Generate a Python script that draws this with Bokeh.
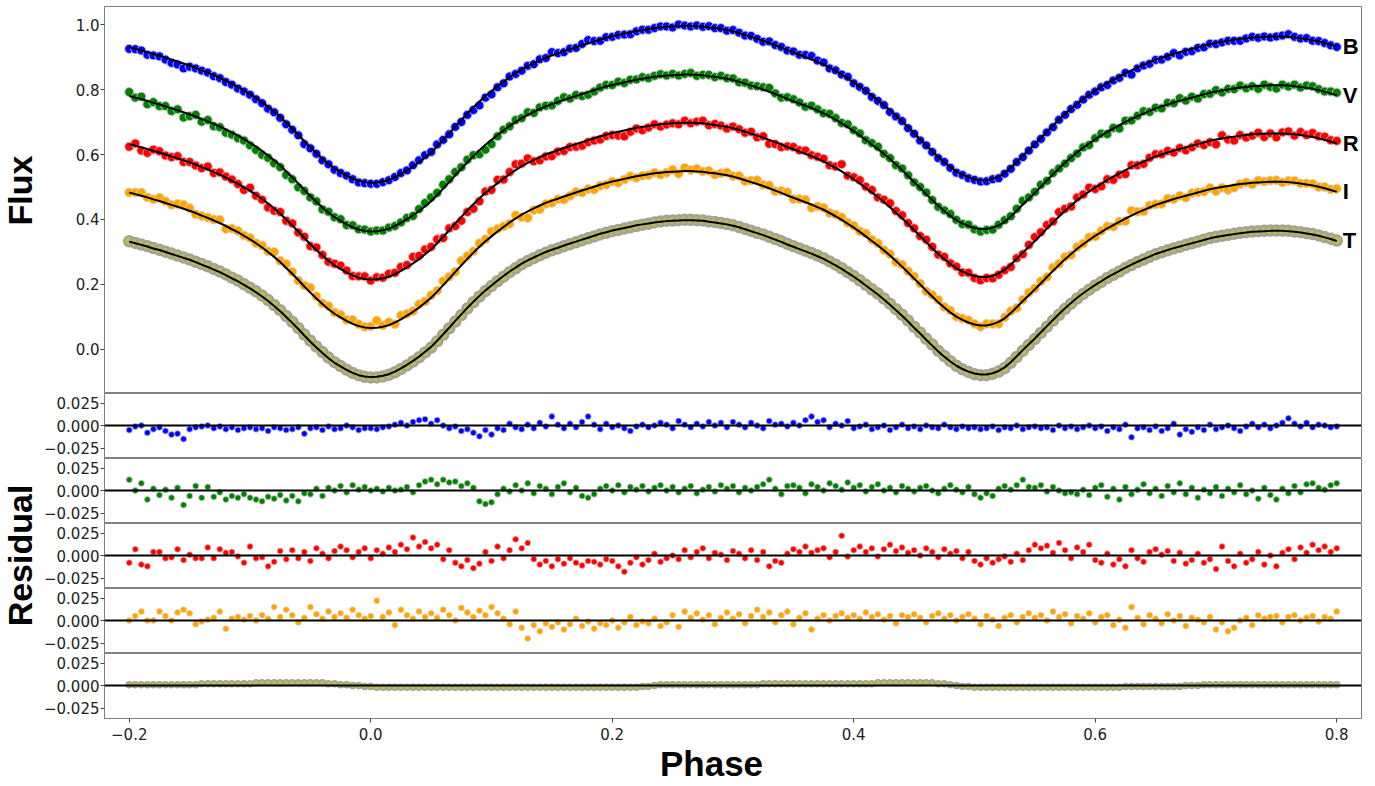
import numpy as np
from bokeh.plotting import figure
from bokeh.layouts import row, column
from bokeh.models import Range1d, Span, FixedTicker
from bokeh.core.properties import value
from bokeh.embed import file_html
from bokeh.resources import INLINE

# ---------------- data ----------------
# orbital phase grid of the observations (step 0.005)
phase = np.round(-0.2 + 0.005 * np.arange(201), 3)

bands = ["B", "V", "R", "I", "T"]

model_B = [
    0.930, 0.925, 0.920, 0.915, 0.909, 0.904, 0.898, 0.892, 0.886, 0.880,
    0.874, 0.867, 0.859, 0.852, 0.844, 0.836, 0.827, 0.817, 0.808, 0.797,
    0.786, 0.774, 0.761, 0.747, 0.732, 0.716, 0.698, 0.680, 0.661, 0.641,
    0.622, 0.604, 0.587, 0.571, 0.557, 0.546, 0.535, 0.526, 0.519, 0.515,
    0.513, 0.514, 0.517, 0.522, 0.530, 0.540, 0.551, 0.563, 0.576, 0.591,
    0.606, 0.625, 0.645, 0.665, 0.686, 0.706, 0.726, 0.745, 0.763, 0.780,
    0.795, 0.810, 0.824, 0.838, 0.850, 0.862, 0.872, 0.881, 0.890, 0.898,
    0.905, 0.911, 0.918, 0.924, 0.930, 0.936, 0.942, 0.948, 0.954, 0.959,
    0.964, 0.968, 0.972, 0.976, 0.980, 0.983, 0.986, 0.989, 0.991, 0.993,
    0.994, 0.995, 0.996, 0.996, 0.995, 0.994, 0.991, 0.989, 0.986, 0.983,
    0.979, 0.974, 0.968, 0.962, 0.956, 0.950, 0.943, 0.936, 0.929, 0.921,
    0.914, 0.907, 0.900, 0.893, 0.885, 0.877, 0.867, 0.857, 0.846, 0.834,
    0.822, 0.809, 0.795, 0.781, 0.767, 0.752, 0.736, 0.719, 0.702, 0.684,
    0.665, 0.647, 0.628, 0.610, 0.592, 0.576, 0.561, 0.548, 0.538, 0.530,
    0.524, 0.521, 0.521, 0.525, 0.532, 0.543, 0.559, 0.577, 0.596, 0.614,
    0.632, 0.651, 0.670, 0.689, 0.707, 0.725, 0.741, 0.757, 0.771, 0.784,
    0.797, 0.808, 0.820, 0.830, 0.840, 0.850, 0.859, 0.868, 0.876, 0.884,
    0.892, 0.898, 0.904, 0.910, 0.915, 0.920, 0.925, 0.930, 0.935, 0.940,
    0.944, 0.947, 0.950, 0.953, 0.956, 0.958, 0.960, 0.961, 0.962, 0.963,
    0.963, 0.963, 0.962, 0.960, 0.958, 0.955, 0.952, 0.948, 0.943, 0.938,
    0.932]

model_V = [
    0.780, 0.775, 0.770, 0.765, 0.759, 0.754, 0.748, 0.742, 0.736, 0.730,
    0.724, 0.717, 0.709, 0.702, 0.694, 0.686, 0.677, 0.667, 0.658, 0.647,
    0.636, 0.624, 0.611, 0.597, 0.582, 0.566, 0.548, 0.530, 0.511, 0.491,
    0.472, 0.454, 0.437, 0.421, 0.407, 0.396, 0.385, 0.376, 0.369, 0.365,
    0.363, 0.364, 0.367, 0.372, 0.380, 0.390, 0.401, 0.413, 0.426, 0.441,
    0.456, 0.475, 0.495, 0.515, 0.536, 0.556, 0.576, 0.595, 0.613, 0.630,
    0.645, 0.660, 0.674, 0.688, 0.700, 0.712, 0.722, 0.731, 0.740, 0.748,
    0.755, 0.761, 0.768, 0.774, 0.780, 0.786, 0.792, 0.798, 0.804, 0.809,
    0.814, 0.818, 0.822, 0.826, 0.830, 0.833, 0.836, 0.839, 0.841, 0.843,
    0.844, 0.845, 0.846, 0.846, 0.845, 0.844, 0.841, 0.839, 0.836, 0.833,
    0.829, 0.824, 0.818, 0.812, 0.806, 0.800, 0.793, 0.786, 0.779, 0.771,
    0.764, 0.757, 0.750, 0.743, 0.735, 0.727, 0.717, 0.707, 0.696, 0.684,
    0.672, 0.659, 0.645, 0.631, 0.617, 0.602, 0.586, 0.569, 0.552, 0.534,
    0.515, 0.497, 0.478, 0.460, 0.442, 0.426, 0.411, 0.398, 0.388, 0.380,
    0.374, 0.371, 0.371, 0.375, 0.382, 0.393, 0.409, 0.427, 0.446, 0.464,
    0.482, 0.501, 0.520, 0.539, 0.557, 0.575, 0.591, 0.607, 0.621, 0.634,
    0.647, 0.658, 0.670, 0.680, 0.690, 0.700, 0.709, 0.718, 0.726, 0.734,
    0.742, 0.748, 0.754, 0.760, 0.765, 0.770, 0.775, 0.780, 0.785, 0.790,
    0.794, 0.797, 0.800, 0.803, 0.806, 0.808, 0.810, 0.811, 0.812, 0.813,
    0.813, 0.813, 0.812, 0.810, 0.808, 0.805, 0.802, 0.798, 0.793, 0.788,
    0.782]

model_R = [
    0.632, 0.627, 0.622, 0.617, 0.611, 0.606, 0.600, 0.594, 0.588, 0.582,
    0.576, 0.569, 0.561, 0.554, 0.546, 0.538, 0.529, 0.519, 0.510, 0.499,
    0.488, 0.476, 0.463, 0.449, 0.434, 0.418, 0.400, 0.382, 0.363, 0.343,
    0.324, 0.306, 0.289, 0.273, 0.259, 0.248, 0.237, 0.228, 0.221, 0.217,
    0.215, 0.216, 0.219, 0.224, 0.232, 0.242, 0.253, 0.265, 0.278, 0.293,
    0.308, 0.327, 0.347, 0.367, 0.388, 0.408, 0.428, 0.447, 0.465, 0.482,
    0.497, 0.512, 0.526, 0.540, 0.552, 0.564, 0.574, 0.583, 0.592, 0.600,
    0.607, 0.613, 0.620, 0.626, 0.632, 0.638, 0.644, 0.650, 0.656, 0.661,
    0.666, 0.670, 0.674, 0.678, 0.682, 0.685, 0.688, 0.691, 0.693, 0.695,
    0.696, 0.697, 0.698, 0.698, 0.697, 0.696, 0.693, 0.691, 0.688, 0.685,
    0.681, 0.676, 0.670, 0.664, 0.658, 0.652, 0.645, 0.638, 0.631, 0.623,
    0.616, 0.609, 0.602, 0.595, 0.587, 0.579, 0.569, 0.559, 0.548, 0.536,
    0.524, 0.511, 0.497, 0.483, 0.469, 0.454, 0.438, 0.421, 0.404, 0.386,
    0.367, 0.349, 0.330, 0.312, 0.294, 0.278, 0.263, 0.250, 0.240, 0.232,
    0.226, 0.223, 0.223, 0.227, 0.234, 0.245, 0.261, 0.279, 0.298, 0.316,
    0.334, 0.353, 0.372, 0.391, 0.409, 0.427, 0.443, 0.459, 0.473, 0.486,
    0.499, 0.510, 0.522, 0.532, 0.542, 0.552, 0.561, 0.570, 0.578, 0.586,
    0.594, 0.600, 0.606, 0.612, 0.617, 0.622, 0.627, 0.632, 0.637, 0.642,
    0.646, 0.649, 0.652, 0.655, 0.658, 0.660, 0.662, 0.663, 0.664, 0.665,
    0.665, 0.665, 0.664, 0.662, 0.660, 0.657, 0.654, 0.650, 0.645, 0.640,
    0.634]

model_I = [
    0.483, 0.478, 0.473, 0.468, 0.462, 0.457, 0.451, 0.445, 0.439, 0.433,
    0.427, 0.420, 0.412, 0.405, 0.397, 0.389, 0.380, 0.370, 0.361, 0.350,
    0.339, 0.327, 0.314, 0.300, 0.285, 0.269, 0.251, 0.233, 0.214, 0.194,
    0.175, 0.157, 0.140, 0.124, 0.110, 0.099, 0.088, 0.079, 0.072, 0.068,
    0.066, 0.067, 0.070, 0.075, 0.083, 0.093, 0.104, 0.116, 0.129, 0.144,
    0.159, 0.178, 0.198, 0.218, 0.239, 0.259, 0.279, 0.298, 0.316, 0.333,
    0.348, 0.363, 0.377, 0.391, 0.403, 0.415, 0.425, 0.434, 0.443, 0.451,
    0.458, 0.464, 0.471, 0.477, 0.483, 0.489, 0.495, 0.501, 0.507, 0.512,
    0.517, 0.521, 0.525, 0.529, 0.533, 0.536, 0.539, 0.542, 0.544, 0.546,
    0.547, 0.548, 0.549, 0.549, 0.548, 0.547, 0.544, 0.542, 0.539, 0.536,
    0.532, 0.527, 0.521, 0.515, 0.509, 0.503, 0.496, 0.489, 0.482, 0.474,
    0.467, 0.460, 0.453, 0.446, 0.438, 0.430, 0.420, 0.410, 0.399, 0.387,
    0.375, 0.362, 0.348, 0.334, 0.320, 0.305, 0.289, 0.272, 0.255, 0.237,
    0.218, 0.200, 0.181, 0.163, 0.145, 0.129, 0.114, 0.101, 0.091, 0.083,
    0.077, 0.074, 0.074, 0.078, 0.085, 0.096, 0.112, 0.130, 0.149, 0.167,
    0.185, 0.204, 0.223, 0.242, 0.260, 0.278, 0.294, 0.310, 0.324, 0.337,
    0.350, 0.361, 0.373, 0.383, 0.393, 0.403, 0.412, 0.421, 0.429, 0.437,
    0.445, 0.451, 0.457, 0.463, 0.468, 0.473, 0.478, 0.483, 0.488, 0.493,
    0.497, 0.500, 0.503, 0.506, 0.509, 0.511, 0.513, 0.514, 0.515, 0.516,
    0.516, 0.516, 0.515, 0.513, 0.511, 0.508, 0.505, 0.501, 0.496, 0.491,
    0.485]

model_T = [
    0.332, 0.327, 0.322, 0.317, 0.311, 0.306, 0.300, 0.294, 0.288, 0.282,
    0.276, 0.269, 0.261, 0.254, 0.246, 0.238, 0.229, 0.219, 0.210, 0.199,
    0.188, 0.176, 0.163, 0.149, 0.134, 0.118, 0.100, 0.082, 0.063, 0.043,
    0.024, 0.006, -0.011, -0.027, -0.041, -0.052, -0.063, -0.072, -0.079, -0.083,
    -0.085, -0.084, -0.081, -0.076, -0.068, -0.058, -0.047, -0.035, -0.022, -0.007,
    0.008, 0.027, 0.047, 0.067, 0.088, 0.108, 0.128, 0.147, 0.165, 0.182,
    0.197, 0.212, 0.226, 0.240, 0.252, 0.264, 0.274, 0.283, 0.292, 0.300,
    0.307, 0.313, 0.320, 0.326, 0.332, 0.338, 0.344, 0.350, 0.356, 0.361,
    0.366, 0.370, 0.374, 0.378, 0.382, 0.385, 0.388, 0.391, 0.393, 0.395,
    0.396, 0.397, 0.398, 0.398, 0.397, 0.396, 0.393, 0.391, 0.388, 0.385,
    0.381, 0.376, 0.370, 0.364, 0.358, 0.352, 0.345, 0.338, 0.331, 0.323,
    0.316, 0.309, 0.302, 0.295, 0.287, 0.279, 0.269, 0.259, 0.248, 0.236,
    0.224, 0.211, 0.197, 0.183, 0.169, 0.154, 0.138, 0.121, 0.104, 0.086,
    0.067, 0.049, 0.030, 0.012, -0.006, -0.022, -0.037, -0.050, -0.060, -0.068,
    -0.074, -0.077, -0.077, -0.073, -0.066, -0.055, -0.039, -0.021, -0.002, 0.016,
    0.034, 0.053, 0.072, 0.091, 0.109, 0.127, 0.143, 0.159, 0.173, 0.186,
    0.199, 0.210, 0.222, 0.232, 0.242, 0.252, 0.261, 0.270, 0.278, 0.286,
    0.294, 0.300, 0.306, 0.312, 0.317, 0.322, 0.327, 0.332, 0.337, 0.342,
    0.346, 0.349, 0.352, 0.355, 0.358, 0.360, 0.362, 0.363, 0.364, 0.365,
    0.365, 0.365, 0.364, 0.362, 0.360, 0.357, 0.354, 0.350, 0.345, 0.340,
    0.334]

resid_B = [
    -0.005, -0.001, 0.000, -0.008, -0.004, -0.002, -0.006, -0.010, -0.009, -0.015,
    -0.004, -0.002, -0.001, 0.000, -0.003, -0.001, -0.004, -0.002, -0.005, -0.003,
    -0.002, -0.004, -0.003, -0.006, -0.002, -0.003, -0.005, -0.004, -0.002, -0.009,
    -0.003, -0.002, -0.005, -0.001, -0.004, -0.003, 0.000, -0.002, -0.005, -0.003,
    -0.003, -0.004, -0.002, -0.001, 0.001, 0.003, 0.000, 0.004, 0.006, 0.007,
    0.002, 0.006, 0.000, -0.003, -0.001, -0.006, -0.004, -0.008, -0.012, -0.005,
    -0.010, -0.003, -0.005, 0.002, -0.002, -0.004, 0.001, -0.003, 0.003, -0.001,
    0.010, 0.001, -0.003, 0.002, -0.002, 0.004, 0.010, 0.001, -0.004, 0.002,
    -0.002, 0.000, -0.003, -0.006, -0.001, 0.001, -0.002, 0.000, 0.003, 0.001,
    -0.003, 0.005, 0.001, -0.002, 0.002, -0.001, 0.004, 0.000, 0.003, -0.002,
    0.004, 0.001, -0.002, 0.003, 0.000, -0.003, 0.005, 0.001, 0.002, -0.001,
    0.003, 0.000, 0.006, 0.010, 0.004, 0.006, -0.002, 0.002, 0.000, 0.005,
    -0.003, -0.001, 0.001, -0.004, -0.002, 0.000, -0.005, -0.002, 0.001, -0.003,
    -0.001, -0.004, 0.000, -0.002, -0.003, 0.001, -0.002, -0.004, -0.001, -0.003,
    -0.002, -0.004, -0.003, -0.001, -0.005, -0.002, -0.003, 0.000, -0.004, -0.002,
    -0.001, -0.003, -0.002, -0.005, 0.000, -0.003, -0.001, -0.004, -0.002, 0.000,
    -0.003, -0.001, -0.006, -0.002, -0.004, 0.001, -0.013, -0.003, -0.002, -0.005,
    -0.001, -0.006, -0.003, 0.002, -0.010, -0.004, -0.007, -0.002, -0.005, 0.001,
    -0.004, -0.002, 0.000, -0.003, -0.006, -0.001, 0.002, -0.002, 0.001, -0.003,
    0.000, 0.003, 0.008, 0.002, -0.001, 0.003, -0.002, 0.001, 0.000, -0.002,
    -0.001]

resid_V = [
    0.012, 0.000, 0.008, -0.010, 0.002, -0.005, 0.001, -0.008, 0.003, -0.016,
    -0.006, 0.005, -0.008, 0.004, -0.007, -0.002, -0.010, -0.006, -0.008, -0.004,
    -0.008, -0.010, -0.012, -0.007, -0.009, -0.005, -0.011, -0.006, -0.012, -0.003,
    -0.004, 0.002, -0.006, 0.003, 0.000, 0.005, -0.002, 0.006, 0.001, 0.004,
    0.000, 0.002, -0.001, 0.003, 0.000, 0.001, 0.004, -0.002, 0.006, 0.010,
    0.012, 0.007, 0.012, 0.009, 0.010, 0.005, 0.008, 0.003, -0.012, -0.015,
    -0.013, -0.004, 0.002, -0.001, 0.006, 0.000, 0.008, -0.003, 0.005, 0.002,
    -0.004, 0.004, 0.008, -0.002, 0.003, -0.006, -0.008, -0.004, 0.002, 0.005,
    0.000, 0.006, -0.002, 0.004, 0.001, 0.005, -0.001, 0.003, 0.006, 0.000,
    0.004, -0.002, 0.002, 0.005, -0.003, 0.001, 0.004, -0.001, 0.006, 0.002,
    0.005, -0.002, 0.003, 0.000, 0.004, 0.007, 0.012, 0.002, -0.004, 0.005,
    0.006, 0.003, -0.003, 0.007, 0.004, 0.000, 0.008, 0.005, 0.001, 0.009,
    0.003, 0.006, -0.001, 0.004, 0.007, 0.000, 0.003, -0.002, 0.005, 0.002,
    -0.001, 0.003, 0.005, 0.000, -0.003, 0.002, 0.006, 0.001, -0.002, 0.004,
    -0.004, -0.008, -0.003, -0.006, 0.002, 0.005, 0.001, 0.006, 0.012, 0.004,
    0.003, 0.006, -0.001, 0.004, 0.000, -0.003, -0.002, -0.004, 0.001, -0.005,
    0.003, 0.006, -0.007, 0.002, -0.010, 0.004, -0.004, 0.001, 0.007, -0.003,
    0.002, -0.006, 0.005, -0.002, 0.008, -0.004, 0.003, -0.008, 0.001, -0.003,
    0.004, -0.006, 0.002, -0.002, 0.006, -0.004, 0.000, -0.009, 0.003, -0.005,
    -0.010, 0.002, -0.003, 0.005, -0.002, 0.007, 0.008, 0.003, 0.001, 0.006,
    0.008]

resid_R = [
    -0.008, 0.007, -0.010, -0.012, 0.004, 0.004, -0.003, -0.002, 0.007, -0.005,
    0.001, -0.003, -0.003, 0.009, -0.003, 0.007, 0.003, 0.004, -0.001, -0.008,
    0.010, -0.003, -0.002, -0.012, -0.007, 0.005, -0.004, 0.006, -0.003, 0.004,
    -0.006, 0.008, 0.002, -0.003, 0.005, 0.010, 0.006, -0.002, 0.004, 0.008,
    -0.003, 0.006, 0.002, 0.009, 0.004, 0.012, 0.007, 0.020, 0.010, 0.015,
    0.008, 0.012, -0.004, 0.006, -0.008, -0.012, -0.005, -0.014, -0.009, 0.004,
    -0.006, 0.010, -0.003, 0.006, 0.018, 0.008, 0.014, -0.004, -0.010, -0.006,
    -0.012, -0.004, -0.009, -0.003, -0.008, -0.011, -0.006, -0.007, -0.010, -0.004,
    -0.006, -0.012, -0.018, -0.008, -0.002, -0.010, -0.005, 0.002, -0.007, -0.003,
    0.000, -0.004, 0.006, -0.002, 0.004, 0.008, -0.003, 0.003, 0.001, -0.005,
    0.005, 0.002, -0.003, 0.006, -0.005, 0.004, -0.012, -0.006, -0.008, 0.002,
    0.007, 0.004, 0.010, 0.003, 0.006, 0.008, -0.002, 0.004, 0.022, -0.001,
    0.006, 0.010, 0.004, 0.008, -0.001, 0.007, 0.012, 0.005, 0.009, 0.003,
    0.006, 0.000, 0.008, 0.004, -0.002, 0.007, 0.002, 0.005, -0.003, 0.004,
    -0.006, -0.010, -0.003, -0.008, -0.004, -0.001, -0.007, 0.002, -0.005, 0.006,
    0.012, 0.008, 0.011, 0.003, 0.014, 0.006, -0.003, 0.009, 0.004, 0.012,
    -0.005, -0.008, 0.002, -0.010, -0.004, -0.012, 0.006, -0.003, -0.007, 0.004,
    0.007, 0.001, 0.005, -0.006, 0.003, -0.009, -0.005, 0.002, -0.008, -0.004,
    -0.015, 0.010, -0.006, -0.012, 0.002, -0.008, -0.004, 0.004, -0.010, 0.000,
    -0.012, 0.003, 0.007, -0.004, 0.009, 0.003, 0.012, 0.006, 0.010, 0.004,
    0.008]

resid_I = [
    0.000, 0.005, 0.010, 0.000, 0.000, 0.010, 0.005, 0.000, 0.009, 0.012,
    0.008, -0.004, -0.001, 0.001, 0.003, 0.010, -0.009, 0.002, 0.004, 0.001,
    0.005, 0.000, 0.006, 0.002, 0.015, 0.004, 0.012, 0.006, -0.002, 0.003,
    0.015, 0.007, 0.002, 0.010, 0.004, 0.008, 0.003, 0.012, 0.006, 0.002,
    0.005, 0.022, 0.004, 0.009, -0.005, 0.012, 0.006, 0.002, 0.010, 0.004,
    0.008, 0.003, 0.012, 0.006, 0.000, 0.014, 0.009, 0.004, 0.011, 0.006,
    0.015, 0.008, 0.002, -0.004, 0.010, -0.008, -0.020, -0.005, -0.012, -0.003,
    -0.007, -0.002, -0.010, -0.004, 0.002, -0.006, -0.001, -0.009, -0.003, -0.005,
    0.000, -0.008, -0.002, 0.004, -0.005, -0.001, -0.003, 0.002, -0.006, -0.002,
    0.006, -0.007, 0.010, 0.003, 0.008, 0.001, 0.006, -0.004, 0.003, 0.009,
    0.002, 0.007, -0.003, 0.005, 0.012, 0.004, 0.009, -0.002, 0.006, 0.010,
    -0.004, 0.003, 0.008, -0.010, 0.002, 0.006, 0.000, 0.005, 0.008, 0.003,
    0.006, 0.002, 0.009, 0.004, 0.007, 0.001, 0.005, -0.003, 0.006, 0.004,
    0.007, 0.003, -0.002, 0.005, 0.008, 0.002, 0.006, 0.000, 0.004, 0.007,
    0.002, -0.004, 0.005, 0.001, -0.006, 0.003, 0.006, -0.002, 0.004, 0.008,
    0.003, 0.006, 0.000, 0.010, 0.004, 0.007, -0.003, 0.005, 0.002, 0.008,
    -0.002, 0.004, 0.006, -0.005, 0.001, -0.008, 0.015, 0.003, -0.004, 0.006,
    0.002, -0.003, 0.007, 0.000, 0.005, -0.006, 0.003, 0.001, -0.002, 0.004,
    -0.010, -0.002, -0.012, -0.008, 0.000, 0.003, -0.005, 0.006, 0.002, 0.004,
    0.005, -0.002, 0.004, 0.006, 0.000, 0.003, 0.005, -0.001, 0.004, 0.002,
    0.010]

resid_T = [
    0.001, 0.001, 0.001, 0.001, 0.001, 0.001, 0.001, 0.001, 0.001, 0.001,
    0.001, 0.001, 0.002, 0.002, 0.002, 0.002, 0.002, 0.002, 0.002, 0.002,
    0.002, 0.003, 0.003, 0.003, 0.003, 0.003, 0.003, 0.003, 0.003, 0.003,
    0.003, 0.003, 0.003, 0.002, 0.002, 0.001, 0.001, 0.000, 0.000, -0.001,
    -0.001, -0.002, -0.002, -0.002, -0.002, -0.002, -0.002, -0.002, -0.002, -0.002,
    -0.002, -0.002, -0.002, -0.002, -0.002, -0.002, -0.002, -0.002, -0.002, -0.002,
    -0.002, -0.002, -0.002, -0.002, -0.002, -0.002, -0.002, -0.002, -0.002, -0.002,
    -0.002, -0.002, -0.002, -0.002, -0.002, -0.002, -0.002, -0.002, -0.002, -0.002,
    -0.002, -0.002, -0.002, -0.002, -0.002, -0.001, -0.001, 0.000, 0.001, 0.001,
    0.001, 0.001, 0.001, 0.001, 0.001, 0.001, 0.001, 0.001, 0.001, 0.001,
    0.001, 0.001, 0.001, 0.001, 0.001, 0.002, 0.002, 0.002, 0.002, 0.002,
    0.002, 0.002, 0.002, 0.002, 0.002, 0.002, 0.002, 0.002, 0.002, 0.002,
    0.002, 0.002, 0.002, 0.002, 0.003, 0.003, 0.003, 0.003, 0.003, 0.003,
    0.003, 0.003, 0.003, 0.003, 0.002, 0.002, 0.001, 0.000, -0.001, -0.001,
    -0.002, -0.002, -0.002, -0.002, -0.002, -0.002, -0.002, -0.002, -0.002, -0.002,
    -0.002, -0.002, -0.002, -0.002, -0.002, -0.002, -0.002, -0.002, -0.002, -0.002,
    -0.002, -0.002, -0.002, -0.002, -0.002, -0.001, -0.001, -0.001, -0.001, -0.001,
    -0.001, -0.001, -0.001, -0.001, -0.001, 0.000, 0.000, 0.000, 0.001, 0.001,
    0.001, 0.001, 0.001, 0.001, 0.001, 0.001, 0.001, 0.001, 0.001, 0.001,
    0.001, 0.001, 0.001, 0.001, 0.001, 0.001, 0.001, 0.001, 0.001, 0.001,
    0.001]

xtick_values = [-0.2, 0.0, 0.2, 0.4, 0.6, 0.8]
xtick_labels = ["\u22120.2", "0.0", "0.2", "0.4", "0.6", "0.8"]
flux_tick_values = [0.0, 0.2, 0.4, 0.6, 0.8, 1.0]
flux_tick_labels = ["0.0", "0.2", "0.4", "0.6", "0.8", "1.0"]
res_tick_values = [-0.025, 0.0, 0.025]
res_tick_labels = ["\u22120.025", "0.000", "0.025"]

# ---------------- styling ----------------
models = dict(B=model_B, V=model_V, R=model_R, I=model_I, T=model_T)
resids = dict(B=resid_B, V=resid_V, R=resid_R, I=resid_I, T=resid_T)
for b in bands:
    assert len(models[b]) == 201 and len(resids[b]) == 201, b

fill = dict(B="#0000ff", V="#008000", R="#ff0000", I="#ffa500", T="#bdbd55")
edge = dict(B="#b8b8d8", V="#b8ccb8", R="#e0b8b8", I="#e6d2b0", T="#a3a394")

FRAME_W = 1257
LEFT = 66          # left border of the stacked panels
RIGHT = 6
STRIP_W = 38       # strip holding the rotated y titles
GRAY = "#808080"
TICK_FONT = "DejaVu Sans"
TICK_SIZE = "15px"
LABEL_FONT = "Liberation Sans"

x_range = Range1d(-0.2205, 0.8205)


def base_style(p, yticks, ylabels):
    p.outline_line_color = GRAY
    p.outline_line_width = 1
    p.xgrid.visible = False
    p.ygrid.visible = False
    p.background_fill_color = "white"
    p.border_fill_color = "white"
    ax = p.yaxis[0]
    ax.ticker = FixedTicker(ticks=yticks)
    ax.major_label_overrides = dict(zip(yticks, ylabels))
    ax.axis_line_color = GRAY
    ax.major_tick_line_color = "#444444"
    ax.major_tick_in = 0
    ax.major_tick_out = 4
    ax.minor_tick_line_color = None
    ax.major_label_standoff = 1
    ax.major_label_text_font = TICK_FONT
    ax.major_label_text_font_size = TICK_SIZE
    ax.major_label_text_color = "#222222"


def blank_strip(w, h, left=0, right=0):
    s = figure(frame_width=w, frame_height=h, x_range=Range1d(0, w),
               y_range=Range1d(0, h), toolbar_location=None, output_backend="svg",
               x_axis_location=None, y_axis_location=None, min_border=0,
               min_border_left=left, min_border_right=right)
    s.outline_line_color = None
    s.xgrid.visible = False
    s.ygrid.visible = False
    return s


# main light-curve panel
main = figure(frame_width=FRAME_W, frame_height=387, x_range=x_range,
              y_range=Range1d(-0.1354, 1.0554), toolbar_location=None,
              output_backend="svg", x_axis_location=None,
              min_border_left=LEFT, min_border_right=RIGHT,
              min_border_top=6, min_border_bottom=0)
base_style(main, flux_tick_values, flux_tick_labels)

for b in bands:
    mdl = np.array(models[b])
    obs = mdl + np.array(resids[b])
    if b == "T":
        main.scatter(phase, obs, size=10, fill_color=fill[b], line_color=edge[b],
                     line_width=2.5)
    else:
        main.scatter(phase, obs, size=9, fill_color=fill[b], line_color=edge[b],
                     line_width=1)
    main.line(phase, mdl, line_color="black", line_width=2)

main.text(x=[phase[-1] + 0.005] * len(bands),
          y=[models[b][-1] for b in bands], text=bands,
          text_font=value(LABEL_FONT), text_font_style="bold", text_font_size="22px",
          text_align="left", text_baseline="middle", text_color="black")

panels = [main]
for i, b in enumerate(bands):
    last = (i == len(bands) - 1)
    p = figure(frame_width=FRAME_W, frame_height=65, x_range=x_range,
               y_range=Range1d(-0.0366, 0.0356), toolbar_location=None,
               output_backend="svg",
               x_axis_location="below" if last else None,
               min_border_left=LEFT, min_border_right=RIGHT,
               min_border_top=0, min_border_bottom=0)
    base_style(p, res_tick_values, res_tick_labels)
    if b == "T":
        p.scatter(phase, resids[b], size=6, fill_color=fill[b], line_color=edge[b],
                  line_width=1.5)
    else:
        p.scatter(phase, resids[b], size=6, fill_color=fill[b], line_color=edge[b],
                  line_width=0.8)
    p.add_layout(Span(location=0, dimension="width", line_color="black",
                      line_width=2))
    if last:
        xa = p.xaxis[0]
        xa.ticker = FixedTicker(ticks=xtick_values)
        xa.major_label_overrides = dict(zip(xtick_values, xtick_labels))
        xa.axis_line_color = GRAY
        xa.major_tick_line_color = "#444444"
        xa.major_tick_in = 0
        xa.major_tick_out = 4
        xa.minor_tick_line_color = None
        xa.major_label_standoff = 5
        xa.major_label_text_font = TICK_FONT
        xa.major_label_text_font_size = TICK_SIZE
        xa.major_label_text_color = "#222222"
    panels.append(p)

# strip below the panels carrying the x title (frame aligned with the panels)
BOTTOM_H = 41
PAGE_FRAME_LEFT = STRIP_W + LEFT
bottom = blank_strip(FRAME_W, BOTTOM_H, left=LEFT, right=RIGHT)
bottom.text(x=[711 - PAGE_FRAME_LEFT], y=[BOTTOM_H - 21], text=["Phase"],
            text_align="center", text_baseline="middle",
            text_font=value(LABEL_FONT), text_font_style="bold",
            text_font_size="35px", text_color="black")
panels.append(bottom)

# narrow strip on the left carrying the rotated y titles
H = 786
lab = blank_strip(STRIP_W, H)
lab.text(x=[19, 19], y=[H - 190, H - 555], text=["Flux", "Residual"],
         angle=np.pi / 2, text_align="center", text_baseline="middle",
         text_font=value(LABEL_FONT), text_font_style="bold", text_font_size="34px",
         text_color="black")

layout = row(lab, column(*panels, spacing=0), spacing=0)

with open("out.html", "w") as f:
    f.write(file_html(layout, INLINE))
